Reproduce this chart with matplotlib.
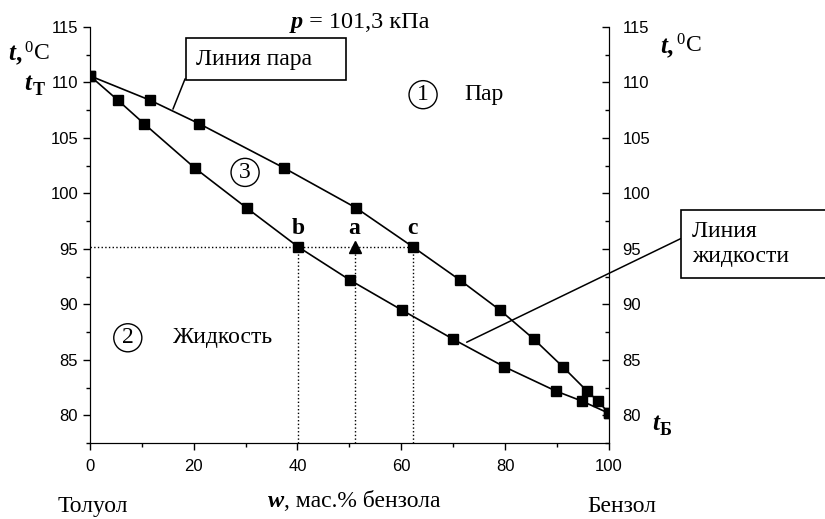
import numpy as np
import matplotlib
matplotlib.use('Agg')
import matplotlib.pyplot as plt
from matplotlib.ticker import MultipleLocator

plt.rcParams['font.family'] = ['Liberation Sans', 'DejaVu Sans']
plt.rcParams['mathtext.fontset'] = 'custom'
plt.rcParams['mathtext.rm'] = 'Liberation Serif'
plt.rcParams['mathtext.it'] = 'Liberation Serif:italic'
plt.rcParams['mathtext.bf'] = 'Liberation Serif:bold'

# данные: состав (мас.% бензола) и температура кипения
x_par = [0, 11.6, 21, 37.4, 51.3, 62.2, 71.3, 79, 85.5, 91.1, 95.8, 97.9, 100]
t_par = [110.6, 108.4, 106.3, 102.3, 98.7, 95.2, 92.2, 89.5, 86.9, 84.4, 82.2, 81.3, 80.2]
x_zhid = [0, 5.4, 10.4, 20.2, 30.2, 40.1, 50.1, 60.1, 69.9, 79.8, 89.8, 94.8, 100]
t_zhid = [110.6, 108.4, 106.3, 102.3, 98.7, 95.2, 92.2, 89.5, 86.9, 84.4, 82.2, 81.3, 80.2]

t_a = 95.2
x_b, x_a, x_c = 40.1, 51.0, 62.2

serif = 'Liberation Serif'
fs = 17

fig = plt.figure(figsize=(8.25, 5.19), dpi=100)
ax = fig.add_axes([0.109, 0.146, 0.629, 0.802])

ax.plot(x_par, t_par, 'k-s', lw=1.2, ms=6.5)
ax.plot(x_zhid, t_zhid, 'k-s', lw=1.2, ms=6.5)

# линии уровня 95 C
ax.plot([0, x_c], [t_a, t_a], 'k:', lw=1)
for xx in [x_b, x_a, x_c]:
    ax.plot([xx, xx], [77.5, t_a], 'k:', lw=1)
ax.plot([x_a], [t_a], 'k^', ms=9)

ax.set_xlim(0, 100)
ax.set_ylim(77.5, 115)
ax.xaxis.set_major_locator(MultipleLocator(20))
ax.xaxis.set_minor_locator(MultipleLocator(10))
ax.yaxis.set_major_locator(MultipleLocator(5))
ax.yaxis.set_minor_locator(MultipleLocator(2.5))
ax.tick_params(labelsize=12, length=5, width=1)
ax.tick_params(axis='x', pad=6)
ax.tick_params(which='minor', length=3, width=1)
ax.spines['top'].set_visible(False)
ax.margins(0)

ax2 = ax.twinx()
ax2.set_ylim(77.5, 115)
ax2.yaxis.set_major_locator(MultipleLocator(5))
ax2.yaxis.set_minor_locator(MultipleLocator(2.5))
ax2.tick_params(labelsize=12, length=5, width=1, direction='in', pad=10)
ax2.tick_params(which='minor', length=3, width=1, direction='in')
ax2.spines['top'].set_visible(False)

# буквы точек
for lab, xx in [('b', x_b), ('a', x_a), ('c', x_c)]:
    ax.text(xx, t_a + 0.7, lab, family=serif, fontweight='bold', fontsize=fs,
            ha='center', va='bottom')

circ = dict(boxstyle='circle,pad=0.15', fc='white', ec='black', lw=1)
ax.text(64.2, 108.9, '1', family=serif, fontsize=fs, ha='center', va='center', bbox=circ)
ax.text(72.2, 108.9, 'Пар', family=serif, fontsize=fs, ha='left', va='center')
ax.text(29.9, 101.9, '3', family=serif, fontsize=fs, ha='center', va='center', bbox=circ)
ax.text(7.3, 87.0, '2', family=serif, fontsize=fs, ha='center', va='center', bbox=circ)
ax.text(16.0, 87.0, 'Жидкость', family=serif, fontsize=fs, ha='left', va='center')

box = dict(boxstyle='square,pad=0.45', fc='white', ec='black', lw=1.2)
ax.annotate('Линия пара    ', xy=(16, 107.6), xytext=(20.5, 112.1),
            family=serif, fontsize=fs, ha='left', va='center', bbox=box,
            arrowprops=dict(arrowstyle='-', color='black', lw=1.1,
                            relpos=(0, 0.9), shrinkA=0, shrinkB=0))
ax.annotate('Линия          \nжидкости      ', xy=(72.6, 86.6), xytext=(116.0, 95.45),
            family=serif, fontsize=fs, ha='left', va='center', bbox=box,
            linespacing=1.3, annotation_clip=False,
            arrowprops=dict(arrowstyle='-', color='black', lw=1.1,
                            relpos=(0, 0.73), shrinkA=0, shrinkB=0))

# подписи вокруг осей
def bold_t(x, y, sub=None, deg=False):
    t = fig.text(x, y, 't', family=serif, fontsize=18, fontweight='bold',
                 style='italic', ha='left', va='baseline')
    if deg:
        t2 = ax.annotate(',', xy=(1, 0), xycoords=t, family=serif, fontsize=18,
                         fontweight='bold', va='bottom', ha='left')
        ax.annotate(r'$^{0}$C', xy=(1, 0), xycoords=t2, family=serif,
                    fontsize=fs, va='bottom', ha='left', xytext=(2, 0),
                    textcoords='offset points')
    if sub:
        ax.annotate(sub, xy=(1, 0), xycoords=t, family=serif, fontsize=13,
                    fontweight='bold', va='bottom', ha='left', xytext=(1, -3),
                    textcoords='offset points')

bold_t(0.010, 0.884, deg=True)
bold_t(0.029, 0.827, sub='Т')
bold_t(0.800, 0.898, deg=True)
bold_t(0.790, 0.171, sub='Б')

tp = fig.text(0.352, 0.946, 'p', family=serif, fontsize=17.5, fontweight='bold',
              style='italic', ha='left', va='baseline')
ax.annotate(' = 101,3 кПа', xy=(1, 0), xycoords=tp, family=serif, fontsize=17.5,
            va='bottom', ha='left')

fig.text(0.112, 0.004, 'Толуол', family=serif, fontsize=fs, ha='center', va='bottom')
fig.text(0.754, 0.004, 'Бензол', family=serif, fontsize=fs, ha='center', va='bottom')
tw = fig.text(0.325, 0.023, 'w', family=serif, fontsize=17.5, fontweight='bold',
              style='italic', ha='left', va='baseline')
ax.annotate(', мас.% бензола', xy=(1, 0), xycoords=tw, family=serif, fontsize=fs,
            va='bottom', ha='left')

fig.savefig('out.png', dpi=100)
